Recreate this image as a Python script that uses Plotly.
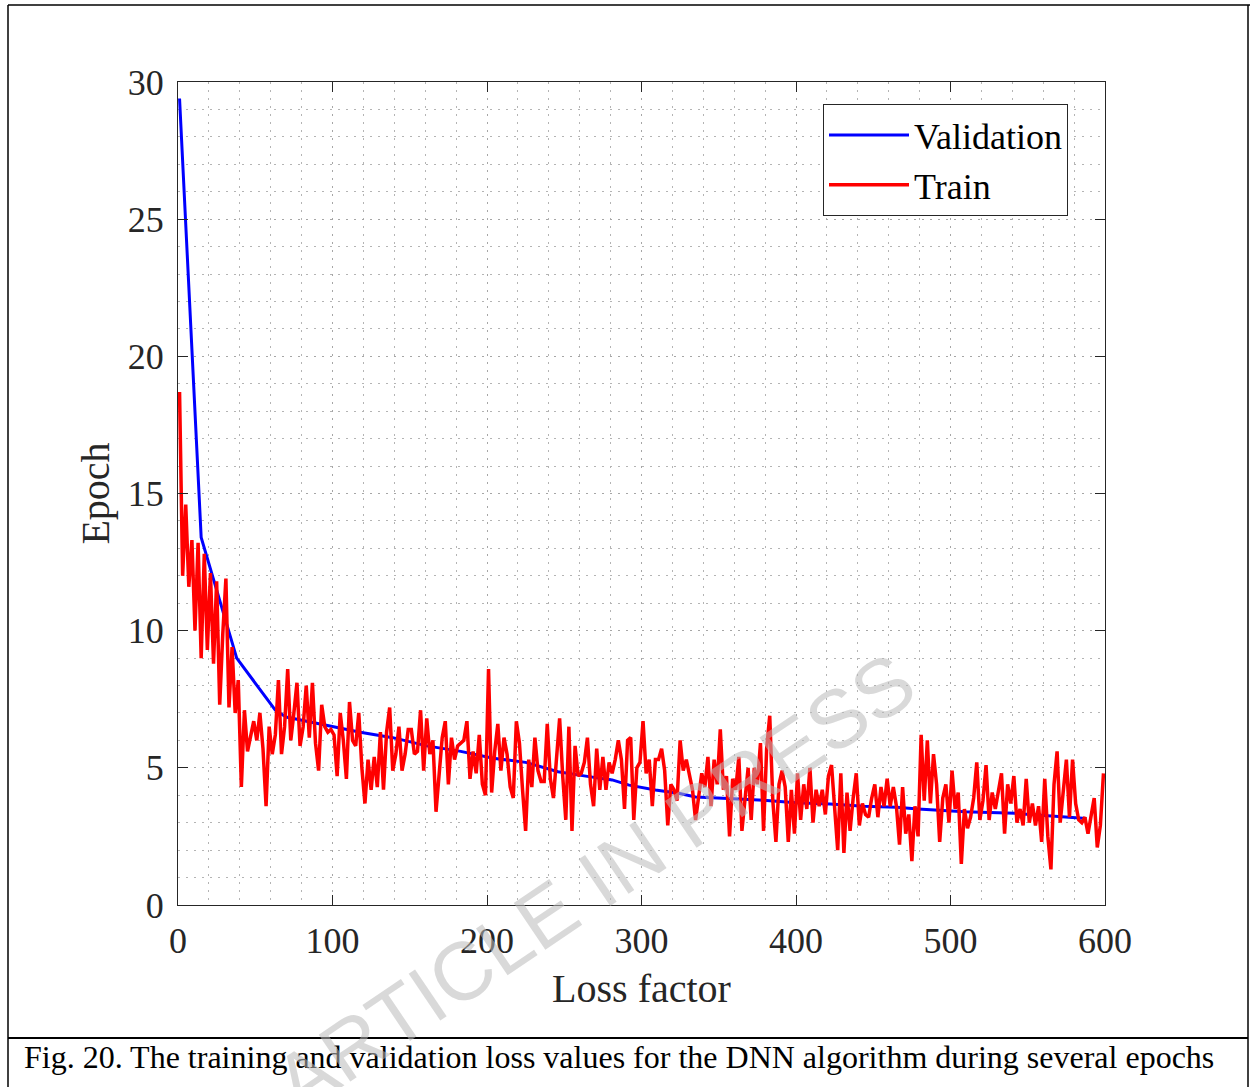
import plotly.graph_objects as go

# ---------------- data ----------------
val_epochs = [1, 15, 38, 63, 70, 118, 139, 161, 183, 204, 225, 246, 266, 281, 292,
              309, 324, 335, 356, 379, 400, 422, 444, 465, 479, 509, 542, 564, 588]
val_loss = [29.4, 13.4, 9.0, 7.1, 6.85, 6.3, 6.1, 5.8, 5.6, 5.35, 5.2, 4.86, 4.68, 4.56, 4.37,
            4.19, 4.07, 3.94, 3.88, 3.82, 3.73, 3.68, 3.6, 3.56, 3.5, 3.4, 3.34, 3.26, 3.15]

train_epochs = list(range(1, 600, 2))
train_loss = [
    18.7, 12.0, 14.6, 11.6, 13.3, 10.0, 13.2, 9.0, 12.8, 9.3,
    12.1, 8.8, 11.8, 7.3, 9.9, 11.9, 7.2, 9.4, 7.0, 8.2,
    4.3, 7.1, 5.6, 6.2, 6.7, 6.0, 7.0, 5.7, 3.6, 6.5,
    5.5, 6.2, 8.2, 5.5, 6.5, 8.6, 6.0, 7.0, 8.1, 5.8,
    6.5, 8.0, 6.1, 8.1, 5.9, 4.9, 7.3, 6.5, 6.3, 6.4,
    6.2, 4.7, 7.0, 6.0, 4.6, 7.4, 6.0, 5.8, 7.0, 5.0,
    3.7, 5.3, 4.2, 5.4, 4.3, 6.3, 4.2, 6.3, 7.2, 4.9,
    5.5, 6.5, 4.9, 5.5, 6.4, 6.4, 5.5, 5.6, 7.1, 4.9,
    6.8, 5.5, 6.0, 3.4, 4.6, 6.1, 6.7, 4.4, 6.1, 5.3,
    5.8, 5.9, 6.0, 6.7, 4.6, 5.6, 4.8, 6.2, 4.4, 4.0,
    8.6, 4.1, 5.6, 6.6, 4.9, 6.1, 5.5, 4.3, 3.9, 6.7,
    5.9, 4.2, 2.7, 5.3, 4.3, 6.1, 4.9, 4.5, 4.5, 6.6,
    4.6, 3.9, 5.2, 6.8, 4.7, 3.1, 6.5, 2.7, 5.8, 4.7,
    4.8, 5.2, 6.1, 4.4, 3.6, 5.7, 4.2, 5.4, 4.2, 5.2,
    4.8, 5.3, 6.0, 5.3, 3.5, 6.0, 6.1, 3.1, 5.0, 5.2,
    6.7, 4.8, 5.3, 3.6, 5.3, 5.3, 5.7, 4.9, 2.9, 4.4,
    4.2, 3.8, 6.0, 4.9, 5.3, 4.8, 4.2, 3.1, 3.9, 4.8,
    4.3, 5.4, 3.6, 5.3, 4.4, 6.4, 4.2, 4.7, 2.5, 4.6,
    4.2, 5.4, 2.7, 3.9, 5.0, 3.1, 5.0, 4.4, 5.9, 2.7,
    5.7, 6.9, 3.8, 2.3, 4.4, 4.9, 4.3, 2.3, 4.2, 2.6,
    4.8, 3.1, 4.4, 3.5, 5.0, 3.0, 4.2, 3.6, 4.2, 3.3,
    4.7, 5.1, 3.5, 2.0, 4.8, 1.9, 4.1, 2.7, 3.9, 4.8,
    2.9, 3.7, 3.3, 3.2, 3.9, 4.4, 3.2, 4.3, 3.6, 4.6,
    3.6, 4.3, 3.6, 2.2, 4.3, 2.6, 3.3, 1.6, 3.6, 2.5,
    6.2, 3.8, 6.0, 3.7, 5.5, 4.4, 2.3, 3.9, 4.4, 3.0,
    4.9, 3.5, 4.1, 1.5, 3.5, 2.8, 3.2, 3.9, 5.2, 3.1,
    3.8, 5.1, 3.1, 4.1, 3.5, 4.2, 4.8, 2.6, 4.4, 3.7,
    4.7, 3.0, 3.5, 2.9, 4.6, 3.0, 3.7, 2.9, 3.6, 2.3,
    4.6, 2.5, 1.3, 4.4, 5.6, 3.0, 4.3, 5.3, 3.2, 5.3,
    3.7, 3.1, 3.0, 3.2, 2.6, 3.3, 3.9, 2.1, 2.9, 4.8,
]

x_ticks = [0, 100, 200, 300, 400, 500, 600]
y_ticks = [0, 5, 10, 15, 20, 25, 30]
x_title = "Loss factor"
y_title = "Epoch"
caption = "Fig. 20. The training and validation loss values for the DNN algorithm during several epochs"
watermark = "ARTICLE IN PRESS"

# ---------------- layout geometry ----------------
W, H = 1250, 1087
L, R, T, B = 178, 1105, 82, 905


def px(xp):
    return (xp - L) / (R - L)


def py(yp):
    return (B - yp) / (B - T)


SERIF = "Liberation Serif, Times New Roman, serif"
AX = "#262626"

fig = go.Figure()
fig.add_trace(go.Scatter(x=val_epochs, y=val_loss, mode="lines", name="Validation",
                         line=dict(color="#0000ff", width=3)))
fig.add_trace(go.Scatter(x=train_epochs, y=train_loss, mode="lines", name="Train",
                         line=dict(color="#ff0000", width=3.5)))

grid = dict(showgrid=True, gridcolor="#a6a6a6", gridwidth=1, griddash="2px,6px")
minor_grid = dict(showgrid=True, gridcolor="#b4b4b4", gridwidth=1, griddash="2px,6px", ticks="")

fig.update_xaxes(range=[0, 600], tickvals=x_ticks, ticks="inside", ticklen=10, tickwidth=1,
                 tickcolor=AX, showline=True, linecolor=AX, linewidth=1, mirror="allticks",
                 zeroline=False, tickfont=dict(family=SERIF, size=36, color=AX),
                 ticklabelstandoff=4,
                 title=dict(text=x_title, font=dict(family=SERIF, size=40, color=AX), standoff=13),
                 minor=dict(dtick=20, **minor_grid),
                 **grid)
fig.update_yaxes(range=[0, 30], tickvals=y_ticks, ticks="inside", ticklen=10, tickwidth=1,
                 tickcolor=AX, showline=True, linecolor=AX, linewidth=1, mirror="allticks",
                 zeroline=False, tickfont=dict(family=SERIF, size=36, color=AX),
                 ticklabelstandoff=6,
                 title=dict(text=y_title, font=dict(family=SERIF, size=40, color=AX), standoff=5),
                 minor=dict(dtick=1, **minor_grid),
                 **grid)

shapes = [
    dict(type="line", xref="paper", yref="paper", x0=px(8), x1=px(1250), y0=py(5), y1=py(5),
         line=dict(color="black", width=1.5)),
    dict(type="line", xref="paper", yref="paper", x0=px(8), x1=px(8), y0=py(5), y1=py(1090),
         line=dict(color="black", width=1.5)),
    dict(type="line", xref="paper", yref="paper", x0=px(1248), x1=px(1248), y0=py(5), y1=py(1090),
         line=dict(color="black", width=1.5)),
    dict(type="line", xref="paper", yref="paper", x0=px(8), x1=px(1248), y0=py(1038), y1=py(1038),
         line=dict(color="black", width=2)),
]

annotations = [
    dict(text=caption, xref="paper", yref="paper", x=px(22), y=py(1057), xanchor="left",
         yanchor="middle", showarrow=False, font=dict(family=SERIF, size=32, color="black")),
    dict(text=watermark, xref="paper", yref="paper", x=px(594), y=py(882), xanchor="center",
         yanchor="middle", showarrow=False, textangle=-34,
         font=dict(family="Liberation Sans, Arial, sans-serif", size=82, color="rgba(185,185,185,0.55)")),
]

fig.update_layout(
    width=W, height=H, autosize=False,
    margin=dict(l=L, r=W - R, t=T, b=H - B, pad=0),
    paper_bgcolor="white", plot_bgcolor="white",
    showlegend=True,
    legend=dict(x=px(823), y=py(104), xanchor="left", yanchor="top",
                bgcolor="white", bordercolor="#262626", borderwidth=1,
                font=dict(family=SERIF, size=36, color="black"),
                itemwidth=80, tracegroupgap=0),
    shapes=shapes,
    annotations=annotations,
)

fig.write_html("out.html")
